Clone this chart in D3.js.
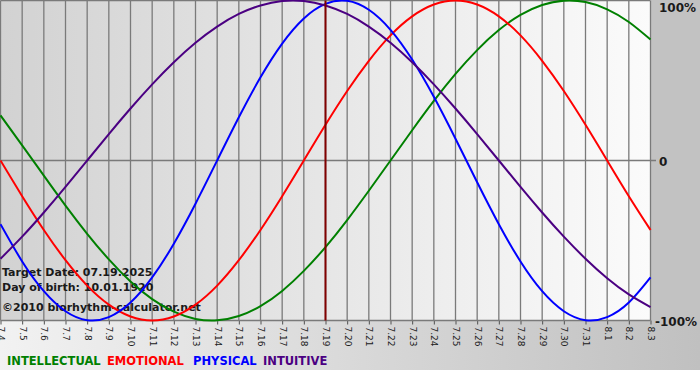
<!DOCTYPE html>
<html>
<head>
<meta charset="utf-8">
<script src="https://cdn.jsdelivr.net/npm/d3@7"></script>
<style>
  body { margin: 0; background: #ffffff; }
  svg { display: block; }
</style>
</head>
<body>
<div id="chart"></div>
<script>
// day labels along the bottom (month.day)
const dayLabels = ["7.4", "7.5", "7.6", "7.7", "7.8", "7.9", "7.10", "7.11", "7.12", "7.13",
    "7.14", "7.15", "7.16", "7.17", "7.18", "7.19", "7.20", "7.21", "7.22", "7.23",
    "7.24", "7.25", "7.26", "7.27", "7.28", "7.29", "7.30", "7.31", "8.1", "8.2", "8.3"];

// cycle values per day, -1 .. 1
const intellectual = [0.282, 0.095, -0.095, -0.282, -0.458, -0.618, -0.756, -0.866, -0.945, -0.990,
    -0.999, -0.972, -0.910, -0.815, -0.690, -0.541, -0.372, -0.189, 0.000, 0.189,
    0.372, 0.541, 0.690, 0.815, 0.910, 0.972, 0.999, 0.990, 0.945, 0.866, 0.756];
const emotional = [0.000, -0.223, -0.434, -0.623, -0.782, -0.901, -0.975, -1.000, -0.975, -0.901,
    -0.782, -0.623, -0.434, -0.223, 0.000, 0.223, 0.434, 0.623, 0.782, 0.901,
    0.975, 1.000, 0.975, 0.901, 0.782, 0.623, 0.434, 0.223, 0.000, -0.223, -0.434];
const physical = [-0.398, -0.631, -0.817, -0.942, -0.998, -0.979, -0.888, -0.731, -0.520, -0.270,
    0.000, 0.270, 0.520, 0.731, 0.888, 0.979, 0.998, 0.942, 0.817, 0.631,
    0.398, 0.136, -0.136, -0.398, -0.631, -0.817, -0.942, -0.998, -0.979, -0.888, -0.731];
const intuitive = [-0.614, -0.476, -0.325, -0.165, 0.000, 0.165, 0.325, 0.476, 0.614, 0.736,
    0.837, 0.916, 0.969, 0.997, 0.997, 0.969, 0.916, 0.837, 0.736, 0.614,
    0.476, 0.325, 0.165, 0.000, -0.165, -0.325, -0.476, -0.614, -0.736, -0.837, -0.916];

const seriesNames = ["INTELLECTUAL", "EMOTIONAL", "PHYSICAL", "INTUITIVE"];
const seriesColors = ["#008000", "#ff0000", "#0000ff", "#4b0082"];
const valueLabels = ["100%", "0", "-100%"];
const valueTicks = [1, 0, -1];
const targetIndex = 15; // 7.19
const infoLines = ["Target Date: 07.19.2025", "Day of birth: 10.01.1920", "\u00a92010 biorhythm-calculator.net"];

const width = 700, height = 380;
const plot = {left: 0.5, right: 650.5, top: 0.5, bottom: 320.5};

const svg = d3.select("#chart")
    .append("svg")
    .attr("width", width)
    .attr("height", height);

const defs = svg.append("defs");
const plotGrad = defs.append("linearGradient").attr("id", "plotGrad");
plotGrad.append("stop").attr("offset", "0%").attr("stop-color", "#d2d2d2");
plotGrad.append("stop").attr("offset", "100%").attr("stop-color", "#fbfbfb");
const footGrad = defs.append("linearGradient").attr("id", "footGrad");
footGrad.append("stop").attr("offset", "0%").attr("stop-color", "#f2f2f2");
footGrad.append("stop").attr("offset", "100%").attr("stop-color", "#c0c0c0");

// background areas
svg.append("rect").attr("x", 0).attr("y", 320).attr("width", width).attr("height", 50)
    .attr("fill", "url(#footGrad)");
svg.append("rect").attr("x", 651).attr("y", 0).attr("width", 49).attr("height", 320)
    .attr("fill", "#c2c2c2");
svg.append("rect").attr("x", 0).attr("y", 0).attr("width", 651).attr("height", 320)
    .attr("fill", "url(#plotGrad)");

const x = d3.scaleLinear().domain([0, dayLabels.length - 1]).range([plot.left, plot.right]);
const y = d3.scaleLinear().domain([-1, 1]).range([plot.bottom, plot.top]);

// vertical day grid + ticks
const xAxis = d3.axisBottom(x)
    .tickValues(d3.range(dayLabels.length))
    .tickFormat(i => dayLabels[i])
    .tickSize(4)
    .tickSizeOuter(0);

svg.append("g")
    .selectAll("line")
    .data(d3.range(dayLabels.length))
    .enter()
    .append("line")
    .attr("x1", d => x(d)).attr("x2", d => x(d))
    .attr("y1", plot.top).attr("y2", plot.bottom)
    .attr("stroke", "#7a7a7a")
    .attr("stroke-width", 1.3);

const axisG = svg.append("g")
    .attr("transform", `translate(0,${plot.bottom})`)
    .call(xAxis);
axisG.select(".domain").remove();
axisG.selectAll(".tick line").attr("stroke", "#505050");
axisG.selectAll(".tick text")
    .attr("fill", "#202020")
    .style("font-family", "'DejaVu Sans', sans-serif")
    .style("font-size", "9px")
    .attr("text-anchor", "start")
    .attr("dy", "0.35em")
    .attr("y", 0)
    .attr("transform", "translate(0,6) rotate(90)");

// zero line and top/bottom border
svg.append("g")
    .selectAll("line")
    .data(valueTicks)
    .enter()
    .append("line")
    .attr("x1", plot.left).attr("x2", d => d === 0 ? 656 : plot.right)
    .attr("y1", d => y(d)).attr("y2", d => y(d))
    .attr("stroke", "#7a7a7a")
    .attr("stroke-width", 1.3);

// right value labels
svg.append("g")
    .selectAll("text")
    .data(valueTicks)
    .enter()
    .append("text")
    .attr("x", (d, i) => i === 2 ? 655 : 659)
    .attr("y", (d, i) => i === 0 ? 8 : y(d) + 1)
    .attr("dy", "0.35em")
    .attr("fill", "#1a1a1a")
    .style("font-family", "'DejaVu Sans', sans-serif")
    .style("font-weight", "bold")
    .style("font-size", "12px")
    .text((d, i) => valueLabels[i]);

// info texts in the lower left
svg.append("g")
    .selectAll("text")
    .data(infoLines)
    .enter()
    .append("text")
    .attr("x", 2)
    .attr("y", (d, i) => [276, 291, 311][i])
    .attr("fill", "#1a1a1a")
    .style("font-family", "'DejaVu Sans', sans-serif")
    .style("font-weight", "bold")
    .style("font-size", "11px")
    .text(d => d);

// curves
const allSeries = [intellectual, emotional, physical, intuitive];
const line = d3.line()
    .x((d, i) => x(i))
    .y(d => y(d))
    .curve(d3.curveNatural);

svg.append("g")
    .selectAll("path")
    .data(allSeries)
    .enter()
    .append("path")
    .attr("d", d => line(d))
    .attr("fill", "none")
    .attr("stroke", (d, i) => seriesColors[i])
    .attr("stroke-width", 2);

// target date marker
svg.append("line")
    .attr("x1", x(targetIndex)).attr("x2", x(targetIndex))
    .attr("y1", plot.top).attr("y2", plot.bottom)
    .attr("stroke", "#800000")
    .attr("stroke-width", 2);

// legend
const legendX = [7, 107, 193, 263];
svg.append("g")
    .selectAll("text")
    .data(seriesNames)
    .enter()
    .append("text")
    .attr("x", (d, i) => legendX[i])
    .attr("y", 365)
    .attr("fill", (d, i) => seriesColors[i])
    .style("font-family", "'DejaVu Sans', sans-serif")
    .style("font-weight", "bold")
    .style("font-size", "11.5px")
    .text(d => d);
</script>
</body>
</html>
